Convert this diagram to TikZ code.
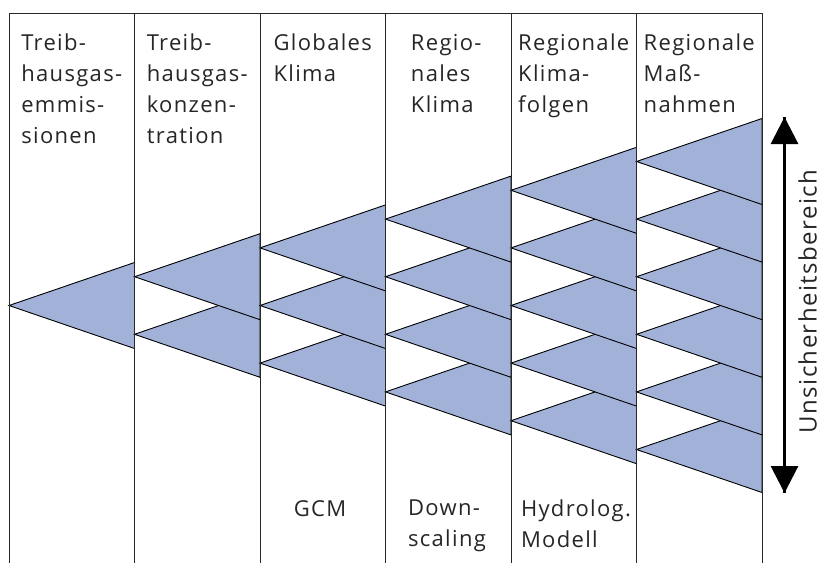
\documentclass[tikz,border=0pt]{standalone}
\usepackage{fontspec}
\setmainfont{Open Sans}
\newfontfamily\hdrfont[LetterSpace=6]{Open Sans}
\newfontfamily\sidefont[LetterSpace=6]{Open Sans}
\usetikzlibrary{arrows.meta}
\definecolor{triblue}{RGB}{161,177,216}
\definecolor{colline}{RGB}{40,40,40}
\begin{document}
\begin{tikzpicture}[x=1pt,y=-1pt,
  lbl/.style={font=\hdrfont\fontsize{22}{31}\selectfont, align=left, inner sep=0pt, anchor=north, text=black!85},
  tri/.style={fill=triblue, draw=black, line width=0.9pt, line join=miter},
  colrule/.style={draw=colline, line width=0.9pt}]
\useasboundingbox (0,0) rectangle (821,563);
% triangles, drawn from the bottom one up so that upper ones lie on top
\foreach \k in {0,...,5}{
  \foreach \j in {\k,...,0}{
    \pgfmathsetmacro\xl{9+\k*125.5}
    \pgfmathsetmacro\xr{\xl+125.5}
    \pgfmathsetmacro\ay{305.5+(\j-\k/2)*57.6}
    \filldraw[tri] (\xl,\ay) -- (\xr,\ay-43) -- (\xr,\ay+43) -- cycle;
  }
}
% column frame
\draw[colrule] (9,563) -- (9,13) -- (762,13) -- (762,563);
\foreach \i in {1,...,5}{
  \draw[colrule] (9+\i*125.5,13) -- (9+\i*125.5,563);
}
% header labels
\node[lbl] (h1) at (71.75,34) {Treib-\\hausgas-\\emmis-\\sionen};
\node[lbl] (h2) at (197.25,34) {Treib-\\hausgas-\\konzen-\\tration};
\node[lbl] (h3) at (322.75,34) {Globales\\Klima};
\node[lbl] (h4) at (446.25,34) {Regio-\\nales\\Klima};
\node[lbl] (h5) at (573.75,34) {Regionale\\Klima-\\folgen};
\node[lbl] (h6) at (699.25,34) {Regionale\\Maß-\\nahmen};
% bottom labels
\node[lbl] (b3) at (320,500) {GCM};
\node[lbl] (b4) at (447,500) {Down-\\scaling};
\node[lbl] (b5) at (576,500) {Hydrolog.\\Modell};
% uncertainty arrow
\coordinate (atop) at (784.5,117);
\coordinate (abot) at (784.5,493);
\draw[line width=3pt, -{Triangle[width=27pt,length=27pt]}] (abot) -- (atop);
\draw[line width=3pt, -{Triangle[width=27pt,length=27pt]}] (atop) -- (abot);
\node[font=\sidefont\fontsize{24}{28}\selectfont, rotate=90, anchor=base, inner sep=0pt, text=black!85] (unc) at (816.5,301.5) {Unsicherheitsbereich};
\end{tikzpicture}
\end{document}
